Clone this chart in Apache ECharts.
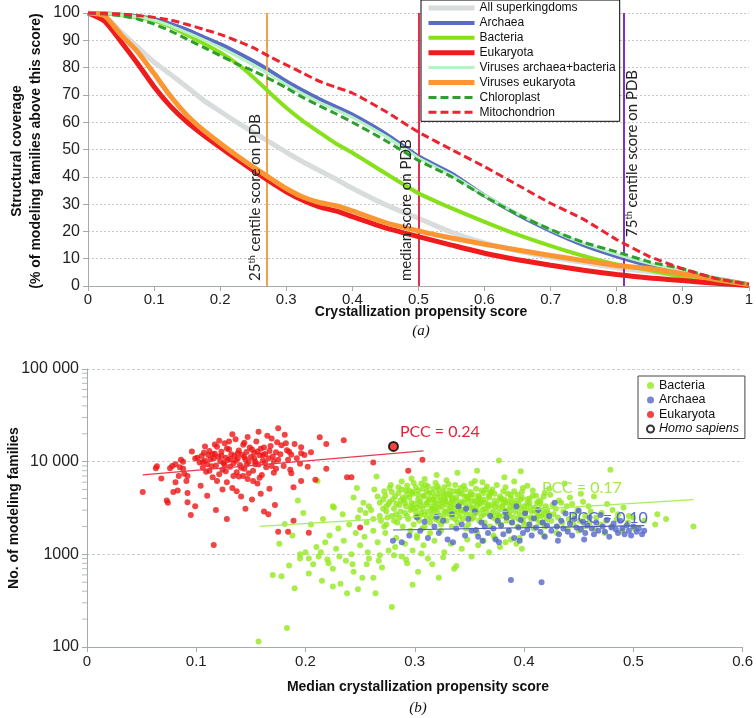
<!DOCTYPE html>
<html><head><meta charset="utf-8">
<script src="https://cdn.jsdelivr.net/npm/echarts@6/dist/echarts.min.js"></script>
<style>html,body{margin:0;padding:0;background:#fff}#c{width:756px;height:718px}</style>
</head><body><div id="c"></div>
<script>
// ---------- Panel (a): structural coverage curves ----------
const coverageScores = [0,0.025,0.05,0.075,0.1,0.125,0.15,0.175,0.2,0.225,0.25,0.275,0.3,0.325,0.35,0.375,0.4,0.45,0.5,0.55,0.6,0.65,0.7,0.75,0.8,0.85,0.9,0.95,1];
const allSuperkingdoms = [100,98.8,93,87.5,82,77.5,72.8,68,64,60,56.3,52.7,49,45.5,42.3,39.2,35.8,29.8,24.8,19.7,15.8,12.9,10.5,8.7,6.7,5.2,3.7,2.2,0.5];
const archaea          = [100,99.8,99.4,98.8,97.8,96,93.8,91.2,88.6,85.6,82.4,78.9,75,71.6,68.5,65.6,62.8,55.8,47.5,41.2,33.2,26.2,20.2,15,10.9,7.5,5.1,2.8,0.6];
const bacteria         = [100,99.8,99.3,98.5,97.2,95,92,88.8,85.5,81.5,76.5,70.8,65.3,60.5,56.3,52.2,48.8,41.3,34,28.5,23.5,18.8,14.7,11,7.9,5.8,3.5,2,0.4];
const eukaryota        = [100,97,89.5,81.5,73,65.8,60,55.2,50.8,46.5,42.3,38.3,34.5,31.4,29,27.5,25.4,21.3,18.1,15,12,9.6,7.6,5.8,4.2,2.9,2,1,0.2];
const virusesArcBac    = [100,99.8,99.3,98.6,97.4,95.3,92.8,90.2,87.4,84.3,81,77.5,73.8,70.4,67.3,64.6,61.8,54.9,47,40.6,33.3,26.5,20.6,15.6,11.6,8.2,5.6,3,0.6];
const virusesEuk       = [100,99,92,85.8,77.8,69.5,62.5,57,52.3,47.8,43.6,39.6,35.7,32.6,30.6,29.4,27.5,23.2,20.2,17.6,15.3,13.2,11.2,9.3,7.5,6.4,4.5,2.4,0.5];
const chloroplast      = [100,99.6,99,97.8,95.9,93.4,90.4,87.4,84.4,81.4,78.8,75.8,72.6,69.1,66,63.1,60,53.3,46,40,32.8,26.2,20.7,16,12.5,8.8,6.3,2.8,0.6];
const mitochondrion    = [100,99.9,99.6,99.1,98.4,97.4,95.8,94,92.2,89.8,87.3,84,81,78,75,72.8,70.7,64,56.4,50,43.7,37,30.3,24.4,17,10.8,6.3,2.8,0.6];
const pdbScoreMarks = [0.268, 0.497, 0.805]; // 25th centile, median, 75th centile

// ---------- Panel (b): scatter ----------
const bacteriaPts = [
[0.157,115],[0.183,160],[0.279,270],[0.170,600],[0.178,580],[0.185,760],[0.190,430],[0.195,900],[0.200,1050],[0.203,620],[0.207,780],[0.210,1200],[0.212,950],[0.215,520],[0.218,1350],[0.220,880],[0.222,1600],[0.225,700],[0.228,1150],[0.230,1900],[0.232,480],[0.235,1400],[0.237,850],[0.240,2100],[0.242,1000],[0.244,650],[0.246,1700],[0.248,2500],[0.250,1250],[0.252,560],[0.254,1550],[0.256,2200],[0.258,900],[0.260,3000],[0.262,1800],[0.264,380],[0.266,1350],[0.268,2600],[0.270,720],[0.272,2000],[0.274,3300],[0.276,1100],[0.211,6200],[0.265,6900],[0.198,2800],[0.205,2100],[0.188,1600],[0.226,3200],[0.234,2700],[0.216,2400],[0.176,1300],[0.244,4100],[0.253,3600],[0.193,3800],[0.247,5200],[0.225,3300],[0.181,2130],
[0.195,1000],[0.203,900],[0.214,1050],[0.221,800],[0.231,950],[0.243,780],[0.257,1050],[0.267,850],[0.281,980],[0.292,880],[0.306,1020],[0.316,780],[0.326,930],[0.336,700],
[0.269,2300],[0.271,3900],[0.272,4800],[0.274,2900],[0.276,3500],[0.277,5200],[0.273,1700],[0.279,2600],[0.281,3100],[0.282,4200],[0.278,5600],[0.283,1500],
[0.284,2200],[0.286,3400],[0.287,3800],[0.285,4600],[0.288,6100],[0.283,2700],[0.289,2000],[0.291,2800],[0.292,3300],[0.290,3900],[0.293,4400],[0.288,5000],[0.291,1300],
[0.294,2400],[0.296,3000],[0.297,3600],[0.295,4100],[0.298,4700],[0.293,5500],[0.296,1800],[0.297,6600],[0.299,2100],[0.301,2600],[0.302,3200],[0.300,3500],[0.303,3900],[0.298,4500],[0.301,5300],[0.302,1600],
[0.304,2300],[0.306,2800],[0.307,3100],[0.305,3700],[0.308,4200],[0.303,4900],[0.306,5800],[0.307,1900],[0.309,2000],[0.311,2500],[0.312,2900],[0.310,3400],[0.313,3800],[0.308,4300],[0.311,4800],[0.312,5400],[0.309,6500],
[0.314,2200],[0.316,2700],[0.317,3000],[0.315,3300],[0.318,3600],[0.313,4000],[0.316,4600],[0.317,5100],[0.314,1700],[0.319,2400],[0.321,2800],[0.322,3200],[0.320,3500],[0.323,3800],[0.318,4100],[0.321,4500],[0.322,5000],[0.319,5900],[0.320,7200],
[0.324,2100],[0.326,2600],[0.327,2900],[0.325,3300],[0.328,3700],[0.323,4200],[0.326,4700],[0.327,5300],[0.324,1800],[0.329,2300],[0.331,2700],[0.332,3000],[0.330,3400],[0.333,3600],[0.328,3900],[0.331,4400],[0.332,4900],[0.329,6300],
[0.334,2500],[0.336,2800],[0.337,3100],[0.335,3500],[0.338,3800],[0.333,4300],[0.336,4800],[0.337,5600],[0.334,2000],[0.339,2200],[0.341,2600],[0.342,3000],[0.340,3300],[0.343,3700],[0.338,4100],[0.341,4600],[0.342,5200],[0.339,7600],
[0.344,2400],[0.346,2900],[0.347,3200],[0.345,3600],[0.348,4000],[0.343,4500],[0.346,5000],[0.347,1900],[0.349,2100],[0.351,2700],[0.352,3100],[0.350,3400],[0.353,3800],[0.348,4200],[0.351,4700],[0.352,5800],
[0.354,2500],[0.356,2800],[0.357,3300],[0.355,3700],[0.358,4000],[0.353,4400],[0.356,5100],[0.357,1700],[0.359,2300],[0.361,2600],[0.362,3000],[0.360,3500],[0.363,3900],[0.358,4300],[0.361,4900],[0.362,6000],[0.357,8000],
[0.364,2200],[0.366,2800],[0.367,3200],[0.365,3600],[0.368,4100],[0.363,4600],[0.366,5400],[0.369,2000],[0.371,2500],[0.372,2900],[0.370,3400],[0.373,3800],[0.368,4300],[0.371,5000],[0.372,1600],
[0.374,2400],[0.376,2700],[0.377,3100],[0.375,3500],[0.378,3900],[0.373,4500],[0.377,10300],[0.379,2100],[0.381,2600],[0.382,3000],[0.380,3300],[0.383,3700],[0.378,4200],[0.381,4800],[0.382,6800],
[0.384,2300],[0.386,2800],[0.387,3200],[0.385,3600],[0.388,4000],[0.383,5300],[0.386,1800],[0.389,2200],[0.391,2500],[0.392,2900],[0.390,3400],[0.393,3800],[0.388,4400],[0.391,6100],
[0.394,2000],[0.396,2700],[0.397,3100],[0.395,3500],[0.398,4100],[0.397,7900],[0.396,1500],[0.399,2300],[0.401,2600],[0.402,3000],[0.400,3300],[0.403,3900],[0.398,4700],
[0.404,2100],[0.406,2500],[0.407,2900],[0.405,3600],[0.408,4300],[0.403,5500],[0.409,1900],[0.411,2400],[0.412,2800],[0.410,3200],[0.413,3700],[0.408,4900],
[0.414,2200],[0.416,2600],[0.417,3000],[0.415,3500],[0.418,4200],[0.419,2000],[0.421,2400],[0.422,2800],[0.420,3300],[0.423,5100],[0.418,1600],
[0.425,2300],[0.427,2700],[0.426,3400],[0.424,4400],[0.430,2000],[0.431,2500],[0.429,3100],[0.432,3800],[0.430,1700],[0.435,2200],[0.436,2900],[0.434,3600],[0.437,5800],[0.440,1900],[0.441,2400],[0.439,3300],[0.442,4100],[0.445,2100],[0.446,2700],[0.444,3500],[0.450,1800],[0.451,2300],[0.449,3000],[0.452,4500],[0.455,2000],[0.456,2600],[0.454,3700],[0.460,2200],[0.461,2900],[0.459,3300],[0.465,1900],[0.466,2500],[0.464,4200],[0.470,2100],[0.471,2800],[0.475,2300],[0.476,3500],[0.474,1700],[0.479,8200],[0.480,2000],[0.481,3000],[0.485,2400],[0.486,2700],[0.490,1800],[0.491,3200],[0.495,2200],[0.496,2600],[0.500,2500],[0.501,1900],[0.510,2300],[0.520,2100],[0.522,2700],[0.530,2400],[0.555,2000],
[0.282,1200],[0.288,950],[0.293,800],[0.298,1100],[0.303,650],[0.308,1250],[0.312,900],[0.318,1400],[0.322,560],[0.327,1050],[0.333,1300],[0.338,750],[0.343,1150],[0.348,1450],[0.352,950],[0.358,1250],[0.363,1400],[0.368,1050],[0.373,1500],[0.378,1200],[0.383,1350],[0.388,1450],[0.393,1300],[0.398,1150],[0.225,450],[0.238,380],[0.248,420],[0.256,780],[0.262,560],[0.298,470],[0.268,980],[0.302,1500],
[0.271,3100],[0.273,4300],[0.275,2500],[0.277,3700],[0.279,4700],[0.281,2300],[0.283,3500],[0.285,5300],[0.287,2900],[0.289,4100],[0.291,3600],[0.293,2600],[0.295,4900],[0.297,3300],[0.299,5900],[0.301,2900],[0.303,4400],[0.305,3400],[0.307,5100],[0.309,2700],[0.311,3600],[0.313,4600],[0.315,2500],[0.317,3900],[0.319,3100],[0.321,5400],[0.323,2600],[0.325,3600],[0.327,4100],[0.329,2900],[0.331,5700],[0.333,3200],[0.335,4000],[0.337,2400],[0.339,4800],[0.341,3500],[0.343,3000],[0.345,5500],[0.347,2700],[0.349,3900],[0.351,4400],[0.353,3200],[0.355,6200],[0.357,2900],[0.359,4100],[0.361,3700],[0.363,2700],[0.365,5000],[0.367,3400],[0.369,4600],[0.371,2800],[0.373,3300],[0.375,5600],[0.377,2600],[0.379,4000],[0.381,3500],[0.383,2900],[0.385,4500],[0.387,2600],[0.389,3600],[0.391,4800],[0.393,3100],[0.395,2400],[0.397,3900],[0.399,5200],[0.401,2800],[0.403,3500],[0.405,4000],[0.407,2400],[0.409,3000],[0.411,4300],[0.413,2600],[0.415,3800],[0.417,2200],[0.419,4600],[0.421,3000],
[0.274,2100],[0.280,3900],[0.286,2500],[0.292,4900],[0.298,3100],[0.304,2600],[0.310,5600],[0.316,3100],[0.322,2300],[0.328,4500],[0.334,3900],[0.340,2800],[0.346,4200],[0.352,2400],[0.358,3600],[0.364,3100],[0.370,4700],[0.376,2200],[0.382,3900],[0.388,3000],[0.394,4400],[0.400,2100],[0.406,3200],[0.412,3600],[0.418,2700],
[0.262,2400],[0.258,3300],[0.266,4200],[0.255,2800],[0.263,5000],[0.250,3000],[0.268,3600]
];
const archaeaPts = [
[0.280,1400],[0.288,1350],[0.302,2500],[0.309,2250],[0.295,1600],[0.305,1800],[0.312,1500],[0.318,2000],[0.322,1700],[0.326,2300],[0.330,1450],[0.334,2700],[0.338,1900],[0.340,3300],[0.343,2100],[0.346,1600],[0.349,2400],[0.352,1800],[0.355,2900],[0.356,1830],[0.358,1550],[0.361,2200],[0.364,2000],[0.367,1700],[0.369,2600],[0.372,1900],[0.374,1450],[0.376,2300],[0.379,2050],[0.381,1650],[0.384,2500],[0.386,1800],[0.388,530],[0.389,2200],[0.391,1500],[0.393,3300],[0.395,1950],[0.397,2350],[0.399,1700],[0.401,2800],[0.403,1850],[0.405,2100],[0.407,1600],[0.409,2450],[0.411,1950],[0.413,3000],[0.415,1750],[0.417,2200],[0.419,1550],[0.421,2050],[0.423,2600],[0.425,1800],[0.428,3600],[0.430,2000],[0.432,1650],[0.434,2300],[0.436,1900],[0.438,2750],[0.440,1750],[0.442,2150],[0.444,1600],[0.446,2400],[0.448,1950],[0.450,2950],[0.452,1850],[0.454,2250],[0.456,1700],[0.458,2050],[0.460,2500],[0.462,1900],[0.464,1650],[0.466,2200],[0.468,1800],[0.470,2650],[0.472,2000],[0.474,1750],[0.476,2350],[0.478,1550],[0.480,1950],[0.482,2150],[0.484,1850],[0.486,1700],[0.488,2300],[0.490,1900],[0.492,1650],[0.494,2050],[0.496,1800],[0.498,1600],[0.500,2000],[0.503,1750],[0.505,1900],[0.508,1650],[0.510,1800],[0.416,500],[0.335,1350],[0.362,1400],[0.377,1350],[0.396,1400],[0.431,1400],[0.455,1450],[0.320,2550],[0.347,3100],[0.383,2850]
];
const eukaryotaPts = [
[0.051,4700],[0.063,8500],[0.064,8900],[0.068,6600],[0.073,3800],[0.074,3600],[0.076,8500],[0.078,9000],[0.081,9400],[0.081,6000],[0.079,4700],[0.083,4900],[0.084,7000],[0.085,8700],[0.086,10500],[0.088,10000],[0.088,8400],[0.089,7400],[0.091,6200],[0.092,7000],[0.092,4600],[0.092,3650],[0.095,2660],[0.099,10800],[0.101,11000],[0.099,3300],
[0.103,9800],[0.105,11500],[0.106,8600],[0.107,12500],[0.108,10200],[0.109,7800],[0.110,9400],[0.111,11800],[0.112,13000],[0.113,10600],[0.114,8900],[0.115,6800],[0.116,1260],[0.116,10900],[0.117,12200],[0.118,9100],[0.119,14500],[0.120,11300],[0.121,7300],[0.122,10100],[0.123,12800],[0.124,8200],[0.125,9700],[0.126,15800],[0.127,11000],[0.128,6000],[0.129,10400],[0.130,13600],[0.131,8800],[0.132,12000],[0.133,5200],[0.134,9600],[0.135,11600],[0.136,17500],[0.137,7700],[0.138,10800],[0.139,13200],[0.140,9200],[0.141,4200],[0.142,11900],[0.143,15200],[0.144,8400],[0.145,10600],[0.146,12700],[0.147,6500],[0.148,9900],[0.149,14200],[0.150,11200],[0.151,3900],[0.152,8000],[0.153,12400],[0.154,10000],[0.155,16500],[0.156,5800],[0.157,9300],[0.158,11700],[0.159,13800],[0.160,7200],[0.161,10300],[0.162,2900],[0.163,12100],[0.164,8700],[0.165,19000],[0.166,10900],[0.167,5100],[0.168,14800],[0.169,9000],[0.170,11400],[0.171,7600],[0.172,3400],[0.173,12600],[0.174,16200],[0.104,5500],[0.110,4300],[0.118,3000],[0.124,5000],[0.128,2400],[0.137,4800],[0.145,3100],[0.152,6200],[0.159,4500],[0.166,2700],[0.121,16800],[0.133,19800],[0.147,18500],[0.157,21000],[0.108,14600],[0.096,12900],[0.139,6900],[0.127,7900],[0.143,7000],
[0.175,23000],[0.178,15000],[0.182,15800],[0.190,15500],[0.196,14300],[0.196,12300],[0.185,12800],[0.187,11900],[0.175,10500],[0.184,10500],[0.213,18300],[0.219,15500],[0.235,17000],[0.187,7500],[0.196,6200],[0.189,5300],[0.209,6400],[0.219,8400],[0.238,6800],[0.242,6800],[0.262,9800],[0.294,8000],[0.307,10500],[0.189,2300],[0.175,1750],[0.184,1750],[0.203,1710],[0.250,1950],
[0.112,8000],[0.119,6200],[0.123,11600],[0.128,13900],[0.131,10700],[0.134,7000],[0.138,12300],[0.141,8600],[0.144,11200],[0.148,7500],[0.151,13500],[0.154,9400],[0.156,12900],[0.158,6700],[0.161,11800],[0.163,9700],[0.167,13000],[0.171,10100],[0.173,8400],[0.177,12000],[0.180,9000],[0.183,13300],[0.186,8200],[0.192,10900],[0.195,9500],[0.199,11800],[0.202,8800],[0.205,12600],[0.106,9900],[0.115,12100],[0.126,9200],[0.136,10300],[0.146,9300],[0.153,10800],[0.162,14200],[0.117,15300],[0.130,16500],[0.144,16000],[0.169,17800],[0.181,19500]
];
const homoSapiensPt = [[0.2805,14600]];
const eukaryotaTrend = [[0.051,7200],[0.308,13100]];
const bacteriaTrend  = [[0.158,2000],[0.555,3900]];
const archaeaTrend   = [[0.280,1830],[0.510,2040]];
const pccLabels = ['PCC = 0.24','PCC = 0.17','PCC = 0.10'];
const logMajorTicks  = [100,1000,10000,100000];
const logMajorLabels = ['100','1000','10 000','100 000'];
const logMinorTicks  = [200,300,400,500,600,700,800,900,2000,3000,4000,5000,6000,7000,8000,9000,20000,30000,40000,50000,60000,70000,80000,90000];

// ---------- styling ----------
const SANS = '"Liberation Sans", Arial, sans-serif';
const AX = '#a3abae';
const topNames = ['All superkingdoms','Archaea','Bacteria','Eukaryota','Viruses archaea+bacteria','Viruses eukaryota','Chloroplast','Mitochondrion'];
const topData  = [allSuperkingdoms, archaea, bacteria, eukaryota, virusesArcBac, virusesEuk, chloroplast, mitochondrion];
const topStyle = [
  {color:'#d9dcdc', width:5},
  {color:'#5a6bc4', width:4},
  {color:'#86e11a', width:4},
  {color:'#ee1c1c', width:5},
  {color:'#b6f2c4', width:3},
  {color:'#fb9632', width:5},
  {color:'#2f9e2f', width:3, type:[8,4]},
  {color:'#ec2330', width:3, type:[8,4]}
];
const lineColors = ['#f0a24a','#e0304c','#8030c4'];

const seriesTop = topNames.map((n,i)=>({
  name:n, type:'line', xAxisIndex:0, yAxisIndex:0, symbol:'none', smooth:0.2,
  data: coverageScores.map((x,k)=>[x, topData[i][k]]),
  lineStyle:{color:topStyle[i].color, width:topStyle[i].width, type:topStyle[i].type||'solid'},
  itemStyle:{color:topStyle[i].color}, z:3+i
}));
seriesTop.push({
  name:'pdbMarks', type:'line', xAxisIndex:0, yAxisIndex:0, data:[], silent:true,
  markLine:{symbol:'none', silent:true, label:{show:false}, animation:false,
    data: pdbScoreMarks.map((v,i)=>({xAxis:v, lineStyle:{color:lineColors[i], width:2, type:'solid'}}))},
  z:20
});

const seriesBottom = [
  {name:'Bacteria ', type:'scatter', xAxisIndex:1, yAxisIndex:1, data:bacteriaPts, symbolSize:6, itemStyle:{color:'#92e81c'}, z:2},
  {name:'Archaea ', type:'scatter', xAxisIndex:1, yAxisIndex:1, data:archaeaPts, symbolSize:6, itemStyle:{color:'#5566cc'}, z:3},
  {name:'Eukaryota ', type:'scatter', xAxisIndex:1, yAxisIndex:1, data:eukaryotaPts, symbolSize:6, itemStyle:{color:'#ee1515'}, z:4},
  {name:'Homo sapiens', type:'scatter', xAxisIndex:1, yAxisIndex:1, data:homoSapiensPt, symbolSize:9, itemStyle:{color:'#ee1515', borderColor:'#000', borderWidth:2}, z:6},
  {name:'trendE', type:'line', xAxisIndex:1, yAxisIndex:1, data:eukaryotaTrend, symbol:'none', lineStyle:{color:'#e8384c', width:1.2}, z:5, silent:true},
  {name:'trendB', type:'line', xAxisIndex:1, yAxisIndex:1, data:bacteriaTrend, symbol:'none', lineStyle:{color:'#a8ee58', width:1.2}, z:5, silent:true},
  {name:'trendA', type:'line', xAxisIndex:1, yAxisIndex:1, data:archaeaTrend, symbol:'none', lineStyle:{color:'#4e5fb2', width:1.2}, z:5, silent:true},
  {name:'minorTicks', type:'scatter', xAxisIndex:1, yAxisIndex:1, data:logMinorTicks.map(v=>[0,v]), symbol:'rect', symbolSize:[5,1], symbolOffset:[-2.5,0], itemStyle:{color:AX}, clip:false, silent:true, z:1}
];

const legendA = topNames.map((n,i)=>({name:n, lineStyle:{width:topStyle[i].width}, itemStyle:{opacity:0}}));

const option = {
  animation:false,
  grid:[{left:88, right:1, top:13, bottom:432},{left:87, right:7.5, top:369, bottom:71}],
  xAxis:[
    {gridIndex:0, type:'value', min:0, max:1, interval:0.1,
     axisLine:{lineStyle:{color:AX, width:1}}, axisTick:{length:5, lineStyle:{color:AX}},
     axisLabel:{color:'#222', fontSize:15, margin:6, fontFamily:SANS}, splitLine:{show:false}},
    {gridIndex:1, type:'value', min:0, max:0.6, interval:0.1,
     axisLine:{lineStyle:{color:AX, width:1}}, axisTick:{length:5, lineStyle:{color:AX}},
     axisLabel:{color:'#222', fontSize:15, margin:7, fontFamily:SANS}, splitLine:{show:false}}
  ],
  yAxis:[
    {gridIndex:0, type:'value', min:0, max:100, interval:10,
     axisLine:{show:true, lineStyle:{color:AX}}, axisTick:{show:true, length:5, lineStyle:{color:AX}},
     axisLabel:{color:'#222', fontSize:16, margin:8, fontFamily:SANS},
     splitLine:{show:true, lineStyle:{color:'#c8c8c8', type:[2,2], width:1}}},
    {gridIndex:1, type:'log', logBase:10, min:100, max:100000,
     axisLine:{show:true, lineStyle:{color:AX}}, axisTick:{show:true, length:5, lineStyle:{color:AX}},
     axisLabel:{color:'#222', fontSize:16, margin:8, fontFamily:SANS,
       formatter:(v)=>{const i=logMajorTicks.indexOf(Math.round(v)); return i>=0?logMajorLabels[i]:'';}},
     splitLine:{show:true, lineStyle:{color:'#cfcfcf', type:[3,2], width:1}}}
  ],
  legend:[
    {left:421, top:0, orient:'vertical', padding:[2,4,3,5], itemWidth:46, itemHeight:10, itemGap:2.9,
     borderColor:'#000', borderWidth:1, backgroundColor:'#fff', selectedMode:false,
     textStyle:{fontSize:12, color:'#111', fontFamily:SANS}, data:legendA},
    {left:638, top:376, orient:'vertical', padding:[3,6,3,8], itemWidth:7, itemHeight:7, itemGap:1.5,
     borderColor:'#444', borderWidth:1, backgroundColor:'#fff', selectedMode:false,
     textStyle:{fontSize:12.5, color:'#111', fontFamily:SANS},
     data:[{name:'Bacteria ', icon:'circle'},{name:'Archaea ', icon:'circle'},{name:'Eukaryota ', icon:'circle'},
       {name:'Homo sapiens', icon:'circle', itemStyle:{color:'#fff', borderColor:'#000', borderWidth:2}, textStyle:{fontStyle:'italic'}}]}
  ],
  series: seriesTop.concat(seriesBottom),
  graphic:[
    {type:'text', x:27, y:151, rotation:Math.PI/2, style:{text:'Structural coverage\n(% of modeling families above this score)', fontSize:14, fontWeight:'bold', fontFamily:SANS, lineHeight:19, fill:'#111', align:'center', verticalAlign:'middle'}},
    {type:'text', x:421, y:312, style:{text:'Crystallization propensity score', fontSize:14, fontWeight:'bold', fontFamily:SANS, fill:'#111', align:'center', verticalAlign:'middle'}},
    {type:'text', x:421, y:331, style:{text:'(a)', fontSize:15, fontStyle:'italic', fontFamily:'"Liberation Serif", serif', fill:'#111', align:'center', verticalAlign:'middle'}},
    {type:'text', x:255, y:281, rotation:Math.PI/2, z:30, style:{text:'25{s|th} centile score on PDB', fontSize:15, fontFamily:'Lato, sans-serif', fill:'#222', align:'left', verticalAlign:'middle', rich:{s:{fontSize:9, fontFamily:'Lato, sans-serif', verticalAlign:'top', fill:'#222'}}}},
    {type:'text', x:406, y:281, rotation:Math.PI/2, z:30, style:{text:'median score on PDB', fontSize:15, fontFamily:'Lato, sans-serif', fill:'#222', align:'left', verticalAlign:'middle'}},
    {type:'text', x:632, y:237, rotation:Math.PI/2, z:30, style:{text:'75{s|th} centile score on PDB', fontSize:15, fontFamily:'Lato, sans-serif', fill:'#222', align:'left', verticalAlign:'middle', rich:{s:{fontSize:9, fontFamily:'Lato, sans-serif', verticalAlign:'top', fill:'#222'}}}},
    {type:'text', x:14, y:508, rotation:Math.PI/2, style:{text:'No. of modeling families', fontSize:14, fontWeight:'bold', fontFamily:SANS, fill:'#111', align:'center', verticalAlign:'middle'}},
    {type:'text', x:418, y:687, style:{text:'Median crystallization propensity score', fontSize:14, fontWeight:'bold', fontFamily:SANS, fill:'#111', align:'center', verticalAlign:'middle'}},
    {type:'text', x:418, y:708, style:{text:'(b)', fontSize:15, fontStyle:'italic', fontFamily:'"Liberation Serif", serif', fill:'#111', align:'center', verticalAlign:'middle'}},
    {type:'text', x:400, y:432, z:30, style:{text:pccLabels[0], fontSize:16, fontFamily:'Lato, sans-serif', fill:'#e8203a', align:'left', verticalAlign:'middle'}},
    {type:'text', x:542, y:488, z:30, style:{text:pccLabels[1], fontSize:16, fontFamily:'Lato, sans-serif', fill:'#a4e84a', align:'left', verticalAlign:'middle'}},
    {type:'text', x:568, y:518, z:30, style:{text:pccLabels[2], fontSize:16, fontFamily:'Lato, sans-serif', fill:'#5566cc', align:'left', verticalAlign:'middle'}}
  ]
};
const chart = echarts.init(document.getElementById('c'), null, {renderer:'canvas'});
chart.setOption(option);
</script>
</body></html>
